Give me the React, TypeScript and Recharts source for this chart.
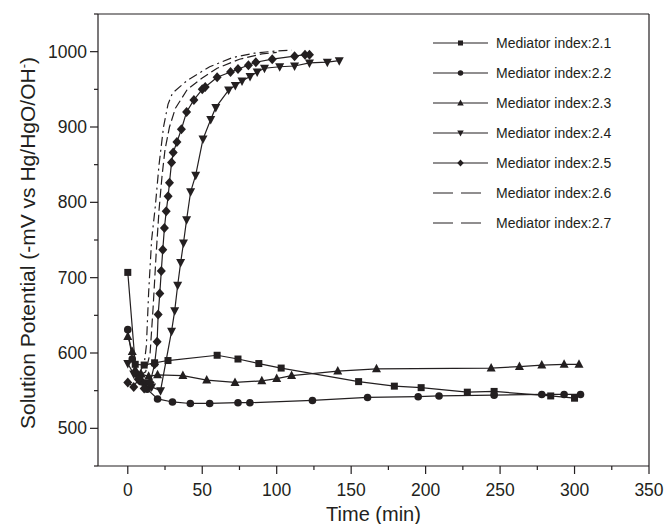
import React from 'react';
import { LineChart, Line, XAxis, YAxis, Legend, ReferenceLine } from 'recharts';

const INK = '#231f20';
const FONT = '"Liberation Sans", Arial, sans-serif';

// Mediator index 2.1 (squares)
const t21 = [0, 5, 11, 18, 27, 60, 74, 88, 103, 155, 179, 197, 228, 246, 284, 300];
const v21 = [707, 585, 584, 587, 590, 597, 592, 586, 580, 562, 556, 554, 548, 549, 543, 540];

// Mediator index 2.2 (circles)
const t22 = [0, 3, 6, 9, 13, 20, 30, 42, 55, 74, 82, 124, 161, 195, 209, 246, 278, 293, 304];
const v22 = [631, 592, 572, 562, 552, 539, 535, 533, 533, 534, 534, 537, 541, 542, 543, 544, 545, 545, 545];

// Mediator index 2.3 (up triangles)
const t23 = [0, 3, 5, 9, 14, 20, 37, 53, 72, 90, 100, 110, 141, 167, 244, 263, 278, 293, 303];
const v23 = [622, 602, 578, 572, 569, 571, 570, 564, 561, 563, 566, 570, 576, 579, 580, 582, 584, 585, 585];

// Mediator index 2.4 (down triangles)
const t24 = [0, 4, 8, 12, 16, 22, 29.4, 31.5, 33.5, 35.5, 37.4, 39.5, 42.2, 45.6, 50.5, 55.7, 59.1, 67.7, 72.2, 76.7, 82.1, 86.9, 91.8, 102, 112, 122, 134, 142];
const v24 = [586, 572, 565, 560, 555, 550, 629, 656, 690, 720, 746, 777, 814, 836, 884, 910, 926, 949, 955, 961, 967, 973, 978, 980, 981, 985, 986, 988];

// Mediator index 2.5 (diamonds)
const t25 = [0, 4, 7, 11, 15, 18, 19.7, 20.4, 21.5, 22.5, 23.5, 24.6, 25.8, 27.1, 28, 29.4, 30.5, 33, 36, 39.5, 44.4, 50, 52, 60, 69, 74, 81, 86, 97, 112, 119, 122];
const v25 = [561, 555, 565, 553, 561, 585, 615, 651, 679, 709, 737, 766, 788, 808, 826, 853, 866, 880, 897, 920, 936, 950, 953, 966, 973, 977, 982, 986, 990, 994, 996, 996];

// Mediator index 2.6 (dash)
const t26 = [8, 12, 15, 17, 19, 21, 23, 25, 28, 32, 40, 50, 60, 75, 90, 100];
const v26 = [570, 575, 600, 660, 730, 790, 835, 870, 900, 925, 950, 965, 978, 990, 997, 999];

// Mediator index 2.7 (dash-dot)
const t27 = [8, 11, 12.5, 14, 16, 18.5, 21, 24, 27, 30, 40, 55, 70, 85, 100, 110];
const v27 = [575, 585, 610, 680, 750, 795, 850, 900, 930, 945, 962, 980, 992, 998, 1001, 1002];

const xTicks = [0, 25, 50, 75, 100, 125, 150, 175, 200, 225, 250, 275, 300, 325, 350];
const yTicks = [450, 500, 550, 600, 650, 700, 750, 800, 850, 900, 950, 1000, 1050];

const zip = (t: number[], v: number[]) => t.map((x, i) => ({ t: x, v: v[i] }));

type Shape = 'square' | 'circle' | 'up' | 'down' | 'diamond' | null;

const series: { name: string; data: { t: number; v: number }[]; shape: Shape; dash?: string }[] = [
  { name: 'Mediator index:2.1', data: zip(t21, v21), shape: 'square' },
  { name: 'Mediator index:2.2', data: zip(t22, v22), shape: 'circle' },
  { name: 'Mediator index:2.3', data: zip(t23, v23), shape: 'up' },
  { name: 'Mediator index:2.4', data: zip(t24, v24), shape: 'down' },
  { name: 'Mediator index:2.5', data: zip(t25, v25), shape: 'diamond' },
  { name: 'Mediator index:2.6', data: zip(t26, v26), shape: null, dash: '9 4' },
  { name: 'Mediator index:2.7', data: zip(t27, v27), shape: null, dash: '9 4 2 4' },
];

function Marker({ cx, cy, shape, s = 1 }: { cx: number; cy: number; shape: Shape; s?: number }) {
  if (shape === 'square') return <rect x={cx - 3.5 * s} y={cy - 3.5 * s} width={7 * s} height={7 * s} fill={INK} />;
  if (shape === 'circle') return <circle cx={cx} cy={cy} r={3.8 * s} fill={INK} />;
  if (shape === 'up')
    return <polygon points={`${cx},${cy - 5 * s} ${cx - 4.5 * s},${cy + 3.5 * s} ${cx + 4.5 * s},${cy + 3.5 * s}`} fill={INK} />;
  if (shape === 'down')
    return <polygon points={`${cx},${cy + 5 * s} ${cx - 4.5 * s},${cy - 3.5 * s} ${cx + 4.5 * s},${cy - 3.5 * s}`} fill={INK} />;
  if (shape === 'diamond')
    return <polygon points={`${cx},${cy - 5 * s} ${cx + 4.5 * s},${cy} ${cx},${cy + 5 * s} ${cx - 4.5 * s},${cy}`} fill={INK} />;
  return null;
}

function XTick({ x, y, payload }: any) {
  const major = payload.value % 50 === 0;
  return (
    <g>
      <line x1={x} x2={x} y1={y} y2={y + (major ? 8 : 4)} stroke={INK} strokeWidth={1.2} />
      {major && (
        <text x={x} y={y + 30} textAnchor="middle" fontSize={17.5} fontFamily={FONT} fill={INK}>
          {payload.value}
        </text>
      )}
    </g>
  );
}

function YTick({ x, y, payload }: any) {
  const major = payload.value % 100 === 0;
  return (
    <g>
      <line x1={x - (major ? 8 : 4)} x2={x} y1={y} y2={y} stroke={INK} strokeWidth={1.2} />
      {major && (
        <text x={x - 11} y={y} dy="0.35em" textAnchor="end" fontSize={17.5} fontFamily={FONT} fill={INK}>
          {payload.value}
        </text>
      )}
    </g>
  );
}

function LegendBox() {
  return (
    <div style={{ fontFamily: FONT, fontSize: 14, color: INK, width: 230 }}>
      {series.map(s => (
        <div key={s.name} style={{ display: 'flex', alignItems: 'center', height: 30 }}>
          <svg width={57} height={12} style={{ marginRight: 7, flexShrink: 0, display: 'block' }}>
            <line x1={1} x2={56} y1={6} y2={6} stroke={INK} strokeWidth={1.2} strokeDasharray={s.dash ? '20 8' : undefined} />
            <Marker cx={28.5} cy={6} shape={s.shape} s={0.72} />
          </svg>
          <span style={{ whiteSpace: 'nowrap' }}>{s.name}</span>
        </div>
      ))}
    </div>
  );
}

export default function App() {
  return (
    <div style={{ position: 'absolute', left: 0, top: 0 }}>
      <LineChart width={667} height={524} margin={{ top: 14, right: 18, bottom: 0, left: 0 }}>
        <XAxis
          type="number"
          dataKey="t"
          domain={[-20, 350]}
          ticks={xTicks}
          interval={0}
          tick={<XTick />}
          tickSize={0}
          tickMargin={0}
          tickLine={false}
          height={58}
          allowDataOverflow
          axisLine={{ stroke: INK, strokeWidth: 1.2 }}
          label={{ value: 'Time (min)', position: 'insideBottom', offset: 3, fontSize: 20, fontFamily: FONT, fill: INK }}
        />
        <YAxis
          type="number"
          dataKey="v"
          domain={[450, 1050]}
          ticks={yTicks}
          interval={0}
          tick={<YTick />}
          tickSize={0}
          tickMargin={0}
          tickLine={false}
          width={98}
          allowDataOverflow
          axisLine={{ stroke: INK, strokeWidth: 1.2 }}
          label={() => (
            <text x={28} y={243} transform="rotate(-90 28 243)" textAnchor="middle" fontSize={21} fontFamily={FONT} fill={INK} dy="0.35em">
              Solution Potential (-mV vs Hg/HgO/OH<tspan dy={-7} fontSize={13}>-</tspan><tspan dy={7}>)</tspan>
            </text>
          )}
        />
        <ReferenceLine y={1050} stroke={INK} strokeWidth={1.2} />
        <ReferenceLine x={350} stroke={INK} strokeWidth={1.2} />
        <Legend
          layout="vertical"
          align="right"
          verticalAlign="top"
          width={0}
          height={0}
          content={() => <LegendBox />}
          wrapperStyle={{ left: 432, top: 28, width: 0, height: 0, overflow: 'visible' }}
        />
        {series.map(s => (
          <Line
            key={s.name}
            name={s.name}
            data={s.data}
            dataKey="v"
            type="linear"
            stroke={INK}
            strokeWidth={1.2}
            strokeDasharray={s.dash}
            isAnimationActive={false}
            dot={
              s.shape
                ? (p: any) => <Marker key={`${s.name}-${p.index}`} cx={p.cx} cy={p.cy} shape={s.shape} />
                : false
            }
            activeDot={false}
          />
        ))}
      </LineChart>
    </div>
  );
}
